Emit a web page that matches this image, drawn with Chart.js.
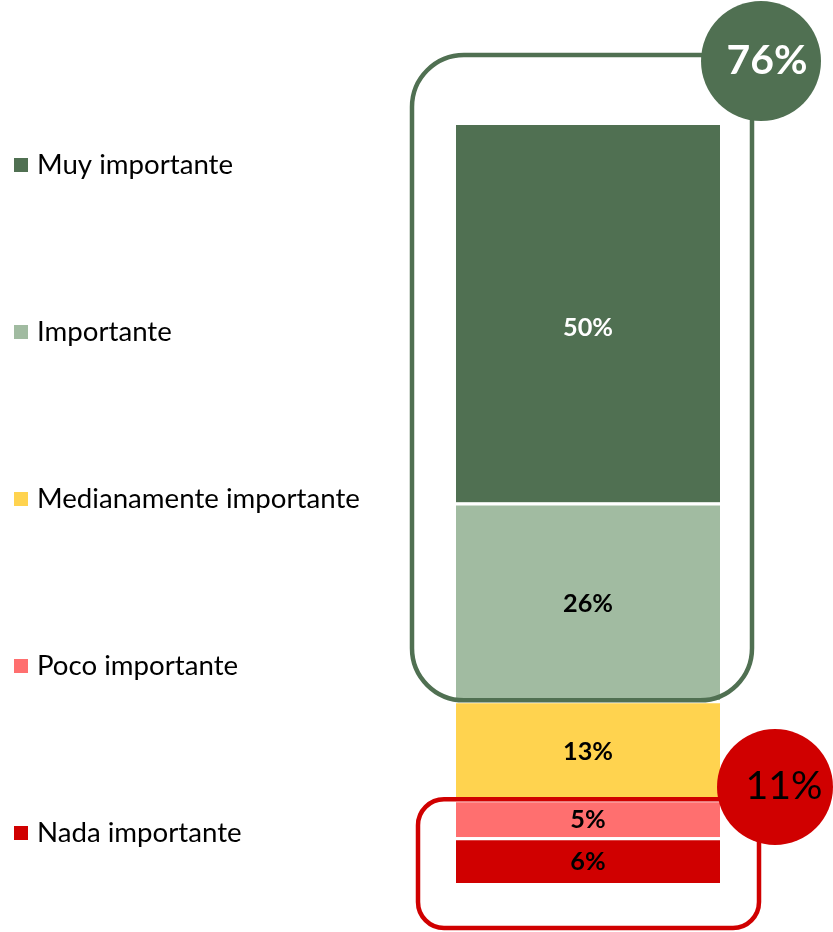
<!DOCTYPE html>
<html>
<head>
<meta charset="utf-8">
<script src="https://cdn.jsdelivr.net/npm/chart.js@4.4.1/dist/chart.umd.min.js"></script>
<style>
  html, body { margin: 0; padding: 0; background: #fff; }
  #wrap { width: 833px; height: 932px; position: relative; }
</style>
</head>
<body>
<div id="wrap"><canvas id="c" width="833" height="932"></canvas></div>
<script>
// ---- data ----
const categories = ["Total"];
const seriesNames = ["Nada importante", "Poco importante", "Medianamente importante", "Importante", "Muy importante"];
const seriesValues = [6, 5, 13, 26, 50];
const seriesColors = ["#D00000", "#FF6F6F", "#FFD34F", "#A1BBA1", "#507052"];
const labelColors = ["#000000", "#000000", "#000000", "#000000", "#FFFFFF"];
const groupTop = { label: "76%", from: 24, to: 100 };     // Importante + Muy importante
const groupBottom = { label: "11%", from: 0, to: 11 };    // Nada + Poco importante

const FONT = "Lato, 'Open Sans', sans-serif";

const datasets = seriesNames.map((n, i) => ({
  label: n,
  data: [seriesValues[i]],
  backgroundColor: seriesColors[i],
  borderColor: "#FFFFFF",
  borderWidth: { top: 3, right: 0, bottom: 0, left: 0 },
  borderSkipped: false,
  barPercentage: 1,
  categoryPercentage: 1,
  inflateAmount: 0
}));

function roundRect(ctx, x, y, w, h, r) {
  ctx.beginPath();
  ctx.moveTo(x + r, y);
  ctx.lineTo(x + w - r, y);
  ctx.arcTo(x + w, y, x + w, y + r, r);
  ctx.lineTo(x + w, y + h - r);
  ctx.arcTo(x + w, y + h, x + w - r, y + h, r);
  ctx.lineTo(x + r, y + h);
  ctx.arcTo(x, y + h, x, y + h - r, r);
  ctx.lineTo(x, y + r);
  ctx.arcTo(x, y, x + r, y, r);
  ctx.closePath();
}

// font size such that text reaches a given width
function fitSize(ctx, text, weight, target) {
  ctx.font = weight + " 100px " + FONT;
  return 100 * target / ctx.measureText(text).width;
}

const decor = {
  id: "decor",
  afterDatasetsDraw(chart) {
    const ctx = chart.ctx;
    const ys = chart.scales.y;
    const bar = chart.getDatasetMeta(0).data[0];
    const cx = bar.x;
    ctx.save();
    // green group frame
    const gTop = 55, gBot = ys.getPixelForValue(groupTop.from);
    ctx.strokeStyle = "#507052";
    ctx.lineWidth = 4.5;
    roundRect(ctx, cx - 176, gTop, 340, gBot - gTop, 52);
    ctx.stroke();
    // red group frame
    const rTop = ys.getPixelForValue(groupBottom.to), rBot = 928;
    ctx.strokeStyle = "#D00000";
    roundRect(ctx, cx - 170, rTop, 341, rBot - rTop, 26);
    ctx.stroke();

    // bar labels
    const lblSize = fitSize(ctx, "50%", "bold", 50);
    chart.data.datasets.forEach((ds, i) => {
      const el = chart.getDatasetMeta(i).data[0];
      const yc = (el.y + el.base) / 2 + 2;
      ctx.fillStyle = labelColors[i];
      ctx.font = "bold " + lblSize + "px " + FONT;
      ctx.textAlign = "center";
      ctx.textBaseline = "middle";
      ctx.fillText(ds.data[0] + "%", el.x, yc + (i === 4 ? 14 : 0));
    });

    // green circle
    ctx.fillStyle = "#507052";
    ctx.beginPath();
    ctx.arc(cx + 173, 61, 60, 0, Math.PI * 2);
    ctx.fill();
    ctx.fillStyle = "#FFFFFF";
    ctx.font = "bold " + fitSize(ctx, groupTop.label, "bold", 81) + "px " + FONT;
    ctx.textAlign = "center";
    ctx.textBaseline = "middle";
    ctx.fillText(groupTop.label, cx + 179, 61);
    // red circle
    ctx.fillStyle = "#D00000";
    ctx.beginPath();
    ctx.arc(cx + 187, 787, 58, 0, Math.PI * 2);
    ctx.fill();
    ctx.fillStyle = "#000000";
    ctx.font = fitSize(ctx, groupBottom.label, "normal", 77) + "px " + FONT;
    ctx.textAlign = "center";
    ctx.textBaseline = "middle";
    ctx.fillText(groupBottom.label, cx + 196, 786);

    // legend (top to bottom: reverse of stack order)
    const legSize = fitSize(ctx, "Medianamente importante", "normal", 323);
    const n = chart.data.datasets.length;
    for (let k = 0; k < n; k++) {
      const ds = chart.data.datasets[n - 1 - k];
      const y = 165 + k * 167;
      ctx.fillStyle = ds.backgroundColor;
      ctx.fillRect(14, y - 7, 14, 14);
      ctx.fillStyle = "#000000";
      ctx.font = legSize + "px " + FONT;
      ctx.textAlign = "left";
      ctx.textBaseline = "middle";
      ctx.fillText(ds.label, 37, y);
    }
    ctx.restore();
  }
};

new Chart(document.getElementById("c"), {
  type: "bar",
  data: { labels: categories, datasets },
  options: {
    responsive: false,
    animation: false,
    layout: { padding: { left: 456, right: 113, top: 122, bottom: 49 } },
    plugins: { legend: { display: false }, tooltip: { enabled: false } },
    scales: {
      x: { stacked: true, display: false, grid: { display: false } },
      y: { stacked: true, display: false, min: 0, max: 100, grid: { display: false } }
    }
  },
  plugins: [decor]
});
</script>
</body>
</html>
